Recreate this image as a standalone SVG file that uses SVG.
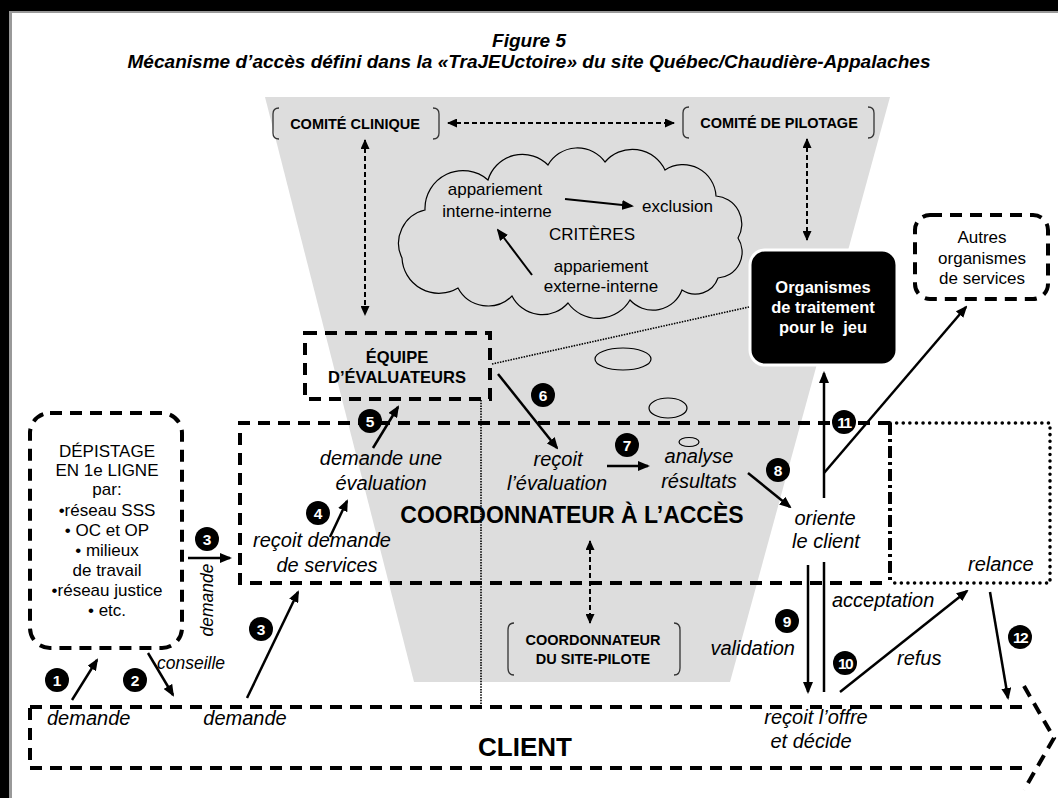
<svg xmlns="http://www.w3.org/2000/svg" width="1058" height="798" viewBox="0 0 1058 798">
  <defs>
    <style>
      text { font-family: "Liberation Sans", Arial, sans-serif; fill: #000; }
      .title { font-weight: bold; font-style: italic; font-size: 19px; text-anchor: middle; }
      .it { font-style: italic; font-size: 20px; }
      .its { font-style: italic; font-size: 17.5px; }
      .c { text-anchor: middle; }
      .reg { font-size: 17px; }
      .bx { font-weight: bold; font-size: 14.5px; text-anchor: middle; }
      .bxl { font-weight: bold; font-size: 16.5px; text-anchor: middle; }
      .num { font-weight: bold; font-size: 15.5px; fill: #fff; text-anchor: middle; }
      .dash { fill: none; stroke: #000; stroke-width: 4; stroke-dasharray: 12 8; }
      .brk { fill: none; stroke: #333; stroke-width: 1.3; }
      .arr { fill: none; stroke: #000; stroke-width: 2.5; marker-end: url(#ah); }
      .arr2 { fill: none; stroke: #000; stroke-width: 2; stroke-dasharray: 5 3; marker-start: url(#ahs); marker-end: url(#ahs); }
      .dot { fill: none; stroke: #000; stroke-width: 1.6; stroke-dasharray: 1.5 1.2; }
    </style>
    <marker id="ah" viewBox="0 0 12 10" refX="10" refY="5" markerWidth="12" markerHeight="10" markerUnits="userSpaceOnUse" orient="auto-start-reverse">
      <path d="M0,0 L12,5 L0,10 z" fill="#000"/>
    </marker>
    <marker id="ahs" viewBox="0 0 10 9" refX="9" refY="4.5" markerWidth="10" markerHeight="9" markerUnits="userSpaceOnUse" orient="auto-start-reverse">
      <path d="M0,0 L10,4.5 L0,9 z" fill="#000"/>
    </marker>
  </defs>

  <!-- page frame -->
  <g id="frame">
    <rect x="0" y="0" width="1058" height="11" fill="#000"/>
    <rect x="0" y="0" width="9" height="798" fill="#000"/>
    <rect x="9" y="11" width="1049" height="2" fill="#999"/>
    <rect x="9" y="11" width="3" height="787" fill="#999"/>
  </g>

  <!-- title -->
  <g id="title">
    <text class="title" x="529" y="47">Figure 5</text>
    <text class="title" x="529" y="68" textLength="803" lengthAdjust="spacingAndGlyphs">Mécanisme d’accès défini dans la «TraJEUctoire» du site Québec/Chaudière-Appalaches</text>
  </g>

  <!-- grey funnel -->
  <path id="funnel" d="M265,97 L890,97 L730,682 L414,682 Z" fill="#dddddd"/>

  <!-- committees -->
  <g id="comite-clinique">
    <path class="brk" d="M279,108 Q273,108 273,114 V133 Q273,139 279,139"/>
    <path class="brk" d="M433,108 Q439,108 439,114 V133 Q439,139 433,139"/>
    <text class="bx" x="355" y="129">COMITÉ CLINIQUE</text>
  </g>
  <g id="comite-pilotage">
    <path class="brk" d="M689,107 Q683,107 683,113 V132 Q683,138 689,138"/>
    <path class="brk" d="M868,107 Q874,107 874,113 V132 Q874,138 868,138"/>
    <text class="bx" x="779" y="128">COMITÉ DE PILOTAGE</text>
  </g>

  <!-- criteria cloud -->
  <g id="criteres">
    <path d="M402,258 A34,34 0 0 1 425,210 A38,38 0 0 1 488,180 A36,36 0 0 1 548,165 A34,34 0 0 1 605,162 A36,36 0 0 1 665,170 A33,33 0 0 1 716,196 A28,28 0 0 1 738,238 A26,26 0 0 1 718,278 A24,24 0 0 1 682,290 A31,31 0 0 1 630,300 A37,37 0 0 1 568,303 A34,34 0 0 1 512,296 A34,34 0 0 1 458,288 A37,37 0 0 1 402,258 Z" fill="none" stroke="#000" stroke-width="1.2"/>
    <ellipse cx="623" cy="359" rx="28" ry="11" fill="none" stroke="#000" stroke-width="1.2"/>
    <ellipse cx="668" cy="408" rx="19" ry="10" fill="none" stroke="#000" stroke-width="1.2"/>
    <ellipse cx="689" cy="442" rx="10" ry="4.5" fill="none" stroke="#000" stroke-width="1.2"/>
    <text class="reg c" x="495" y="195">appariement</text>
    <text class="reg c" x="497" y="217">interne-interne</text>
    <text class="reg" x="642" y="212">exclusion</text>
    <text class="reg c" x="592" y="240">CRITÈRES</text>
    <text class="reg c" x="601" y="272">appariement</text>
    <text class="reg c" x="601" y="292">externe-interne</text>
  </g>

  <!-- evaluation team -->
  <g id="equipe">
    <rect class="dash" x="305" y="333" width="185" height="66" stroke-dasharray="12 7"/>
    <text class="bxl" x="397" y="363">ÉQUIPE</text>
    <text class="bxl" x="397" y="383">D’ÉVALUATEURS</text>
  </g>

  <!-- treatment organisations -->
  <g id="organismes">
    <rect x="750" y="250" width="147" height="115" rx="15" fill="#000" stroke="#fff" stroke-width="3"/>
    <text class="bxl" x="823" y="293" style="fill:#fff">Organismes</text>
    <text class="bxl" x="823" y="313" style="fill:#fff">de traitement</text>
    <text class="bxl" x="823" y="333" style="fill:#fff" xml:space="preserve">pour le  jeu</text>
  </g>

  <!-- other services -->
  <g id="autres">
    <rect class="dash" x="915" y="215" width="133" height="84" rx="15" fill="#fff" stroke-dasharray="14 8"/>
    <text class="reg c" x="982" y="243">Autres</text>
    <text class="reg c" x="982" y="264">organismes</text>
    <text class="reg c" x="982" y="284">de services</text>
  </g>

  <!-- first-line screening -->
  <g id="depistage">
    <rect class="dash" x="30" y="413" width="152" height="235" rx="20"/>
    <text class="reg c" x="107" y="457">DÉPISTAGE</text>
    <text class="reg c" x="107" y="476">EN 1e LIGNE</text>
    <text class="reg c" x="107" y="495">par:</text>
    <text class="reg c" x="107" y="516">•réseau SSS</text>
    <text class="reg c" x="107" y="536">• OC et OP</text>
    <text class="reg c" x="107" y="556">• milieux</text>
    <text class="reg c" x="107" y="576">de travail</text>
    <text class="reg c" x="107" y="596">•réseau justice</text>
    <text class="reg c" x="107" y="616">• etc.</text>
  </g>

  <!-- access coordinator -->
  <g id="coordonnateur">
    <path class="dash" d="M890,423 H240 V583 H886"/>
    <path d="M890,423 V583" fill="none" stroke="#000" stroke-width="4" stroke-dasharray="12 4 3 4"/>
    <text x="572" y="523" style="font-weight:bold;font-size:23px;text-anchor:middle">COORDONNATEUR À L’ACCÈS</text>
    <text class="it c" x="381" y="465">demande une</text>
    <text class="it c" x="381" y="490">évaluation</text>
    <text class="it c" x="322" y="547">reçoit demande</text>
    <text class="it c" x="327" y="572">de services</text>
    <text class="it c" x="558" y="466">reçoit</text>
    <text class="it c" x="557" y="490">l’évaluation</text>
    <text class="it c" x="699" y="463">analyse</text>
    <text class="it c" x="699" y="488">résultats</text>
    <text class="it c" x="825" y="525">oriente</text>
    <text class="it c" x="826" y="548">le client</text>
  </g>

  <!-- follow-up -->
  <g id="relance">
    <path d="M890,423 H1050 V583 H892" fill="none" stroke="#000" stroke-width="3.5" stroke-linecap="round" stroke-dasharray="0.1 6.5"/>
    <text class="it" x="968" y="571">relance</text>
  </g>

  <!-- pilot-site coordinator -->
  <g id="site-pilote">
    <path class="brk" d="M514,623 Q508,623 508,630 V668 Q508,675 514,675"/>
    <path class="brk" d="M674,623 Q680,623 680,630 V668 Q680,675 674,675"/>
    <text class="bx" x="593" y="645">COORDONNATEUR</text>
    <text class="bx" x="593" y="664">DU SITE-PILOTE</text>
  </g>

  <!-- client -->
  <g id="client">
    <path class="dash" d="M30,707 H1022 M1024,686 L1054,738 L1024,790 M1022,768 H30 V707"/>
    <text x="525" y="756" style="font-weight:bold;font-size:26px;text-anchor:middle">CLIENT</text>
    <text class="it" x="47" y="725">demande</text>
    <text class="it c" x="245" y="725">demande</text>
    <text class="it c" x="816" y="724">reçoit l’offre</text>
    <text class="it c" x="811" y="748">et décide</text>
  </g>

  <!-- connectors -->
  <g id="connectors">
    <line class="arr2" x1="448" y1="123" x2="674" y2="123"/>
    <line class="arr2" x1="365" y1="140" x2="365" y2="315"/>
    <line class="arr2" x1="807" y1="139" x2="807" y2="240"/>
    <line class="arr2" x1="590" y1="541" x2="590" y2="623"/>

    <line class="dot" x1="481" y1="400" x2="481" y2="707"/>
    <line class="dot" x1="492" y1="364" x2="749" y2="307"/>

    <line class="arr" style="stroke-width:2" x1="565" y1="199" x2="632" y2="206"/>
    <line class="arr" style="stroke-width:2" x1="532" y1="275" x2="498" y2="230"/>

    <line class="arr" x1="72" y1="700" x2="97" y2="660"/>
    <line class="arr" x1="148" y1="653" x2="173" y2="695"/>
    <line class="arr" x1="188" y1="558" x2="230" y2="558"/>
    <line class="arr" x1="247" y1="698" x2="298" y2="592"/>
    <line class="arr" x1="330" y1="537" x2="347" y2="501"/>
    <line class="arr" x1="373" y1="448" x2="398" y2="407"/>
    <line class="arr" x1="498" y1="374" x2="557" y2="448"/>
    <line class="arr" x1="607" y1="466" x2="648" y2="466"/>
    <line class="arr" x1="748" y1="473" x2="790" y2="507"/>
    <line class="arr" x1="824" y1="498" x2="824" y2="373"/>
    <line class="arr" x1="824" y1="473" x2="966" y2="307"/>
    <line class="arr" x1="808" y1="565" x2="808" y2="692"/>
    <line x1="824" y1="692" x2="824" y2="562" stroke="#000" stroke-width="2.5"/>
    <line class="arr" x1="840" y1="692" x2="967" y2="591"/>
    <line class="arr" x1="990" y1="592" x2="1008" y2="698"/>

    <text class="its" x="157" y="669">conseille</text>
    <text class="its c" transform="translate(213,600) rotate(-90)">demande</text>
    <text class="it" x="832" y="607">acceptation</text>
    <text class="it" x="795" y="655" text-anchor="end">validation</text>
    <text class="it" x="897" y="665">refus</text>
  </g>

  <!-- step numbers -->
  <g id="steps">
    <g transform="translate(57,680)"><circle r="12"/><text class="num" y="5.5">1</text></g>
    <g transform="translate(135,680)"><circle r="12"/><text class="num" y="5.5">2</text></g>
    <g transform="translate(207,539)"><circle r="12"/><text class="num" y="5.5">3</text></g>
    <g transform="translate(261,629)"><circle r="12"/><text class="num" y="5.5">3</text></g>
    <g transform="translate(318,513)"><circle r="12"/><text class="num" y="5.5">4</text></g>
    <g transform="translate(370,421)"><circle r="12"/><text class="num" y="5.5">5</text></g>
    <g transform="translate(543,395)"><circle r="12"/><text class="num" y="5.5">6</text></g>
    <g transform="translate(627,445)"><circle r="12"/><text class="num" y="5.5">7</text></g>
    <g transform="translate(778,470)"><circle r="12"/><text class="num" y="5.5">8</text></g>
    <g transform="translate(787,621)"><circle r="12"/><text class="num" y="5.5">9</text></g>
    <g transform="translate(845,663)"><circle r="12"/><text class="num" y="5.5" style="letter-spacing:-1.5px">10</text></g>
    <g transform="translate(844,422)"><circle r="12"/><text class="num" y="5.5" style="letter-spacing:-1.5px">11</text></g>
    <g transform="translate(1020,637)"><circle r="12"/><text class="num" y="5.5" style="letter-spacing:-1.5px">12</text></g>
  </g>
</svg>
